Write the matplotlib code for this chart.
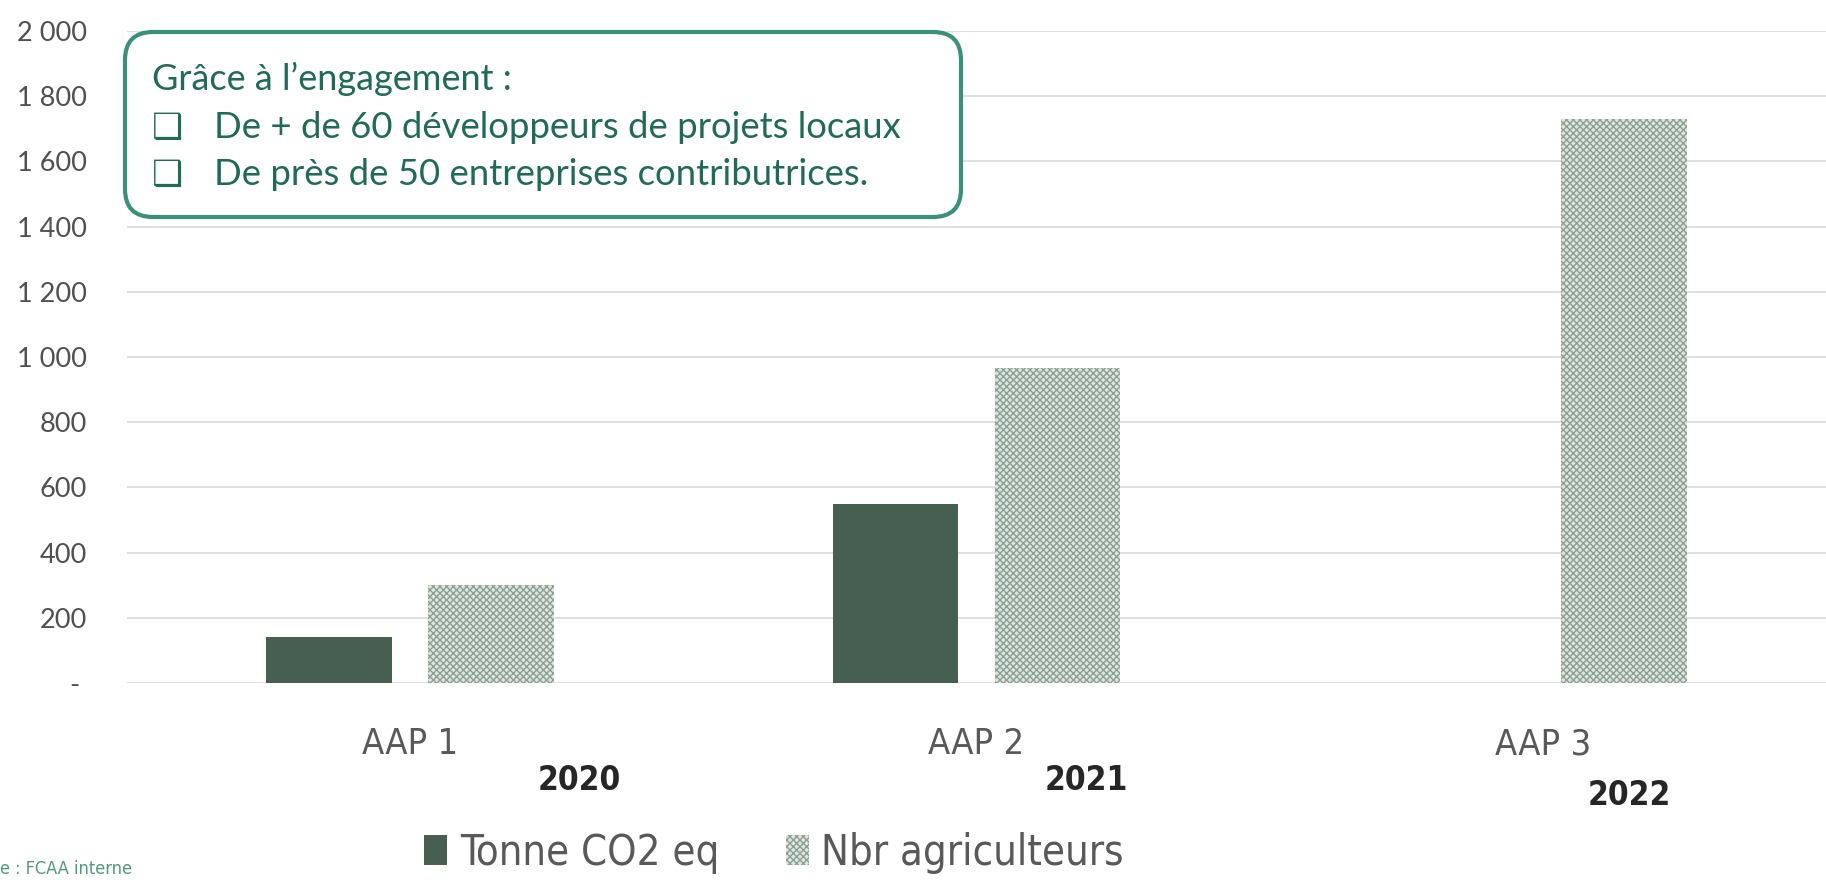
import matplotlib
matplotlib.use('Agg')
import matplotlib.pyplot as plt
import numpy as np
from matplotlib.patches import FancyBboxPatch
from matplotlib.ticker import FuncFormatter

# donnees
appels = ['AAP 1', 'AAP 2', 'AAP 3']
annees = ['2020', '2021', '2022']
tonnes_co2 = [140, 550, 0]
nbr_agri = [300, 965, 1730]

vert_fonce = '#475f51'
vert_txt = '#1f6b57'
vert_bord = '#3a9179'
gris = '#595959'
cond = dict(family='DejaVu Sans', stretch='condensed')

plt.rcParams['hatch.linewidth'] = 1.0

fig = plt.figure(figsize=(18.26, 8.8), dpi=100)
ax = fig.add_axes([0.0696, 0.2239, 0.9304, 0.7409])

x = np.arange(len(appels))
w = 0.222
b1 = ax.bar(x - 0.143, tonnes_co2, w, color=vert_fonce, label='Tonne CO2 eq')
b2 = ax.bar(x + 0.143, nbr_agri, w, facecolor='#dfe5e1', edgecolor='#8b9f92',
            hatch='xxxxx', linewidth=0, label='Nbr agriculteurs')

ax.set_xlim(-0.5, 2.5)
ax.set_ylim(0, 2000)
ax.set_yticks(np.arange(0, 2001, 200))
ax.yaxis.set_major_formatter(FuncFormatter(
    lambda v, p: '- ' if v == 0 else f'{int(v):,}'.replace(',', ' ')))
ax.grid(axis='y', color='#dcdcdc', linewidth=1.3)
ax.set_axisbelow(True)
for s in ax.spines.values():
    s.set_visible(False)
ax.tick_params(axis='y', length=0, pad=29, labelsize=19.5, labelcolor='#505050')
ax.tick_params(axis='x', length=0, pad=32, labelcolor=gris)
for lab in ax.get_yticklabels():
    lab.set_family('Lato')
ax.set_xticks(x)
ax.set_xticklabels(appels, fontsize=26, **cond)

# annees sous les etiquettes
dx_annees = [0.298, 0.194, 0.152]
dy_annees = [-0.149, -0.149, -0.172]
for i, a in enumerate(annees):
    ax.text(x[i] + dx_annees[i], dy_annees[i], a, transform=ax.get_xaxis_transform(),
            ha='center', va='center', fontsize=24, fontweight='bold',
            color='#262626', **cond)

fig.legend(handles=[b1, b2], loc='center', bbox_to_anchor=(0.424, 0.031), ncol=2,
           frameon=False, prop={'family': 'DejaVu Sans', 'stretch': 'condensed', 'size': 30},
           labelcolor=gris, handlelength=0.55, handleheight=0.75, handletextpad=0.3,
           columnspacing=1.6)

# encadre
boite = FancyBboxPatch((1.25, 6.63), 8.36, 1.85,
                       boxstyle='round,pad=0,rounding_size=0.28',
                       transform=fig.dpi_scale_trans, facecolor='white',
                       edgecolor=vert_bord, linewidth=3, zorder=5)
fig.add_artist(boite)
lignes = ['Grâce à l\u2019engagement :',
          'De + de 60 développeurs de projets locaux',
          'De près de 50 entreprises contributrices.']
ys = [7.90, 7.42, 6.95]
fig.text(1.52, ys[0], lignes[0], transform=fig.dpi_scale_trans, va='baseline',
         fontsize=26, family='Lato', color=vert_txt, zorder=6)
for t, y in zip(lignes[1:], ys[1:]):
    fig.text(1.52, y, '\u2751', transform=fig.dpi_scale_trans, va='baseline',
             fontsize=25, family='DejaVu Sans', color=vert_txt, zorder=6)
    fig.text(2.14, y, t, transform=fig.dpi_scale_trans, va='baseline',
             fontsize=26.3, family='Lato', color=vert_txt, zorder=6)

fig.text(0.0, 0.06, 'e : FCAA interne', transform=fig.dpi_scale_trans,
         fontsize=13, color='#4f9a78', va='baseline', **cond)

fig.savefig('out.png', dpi=100)
